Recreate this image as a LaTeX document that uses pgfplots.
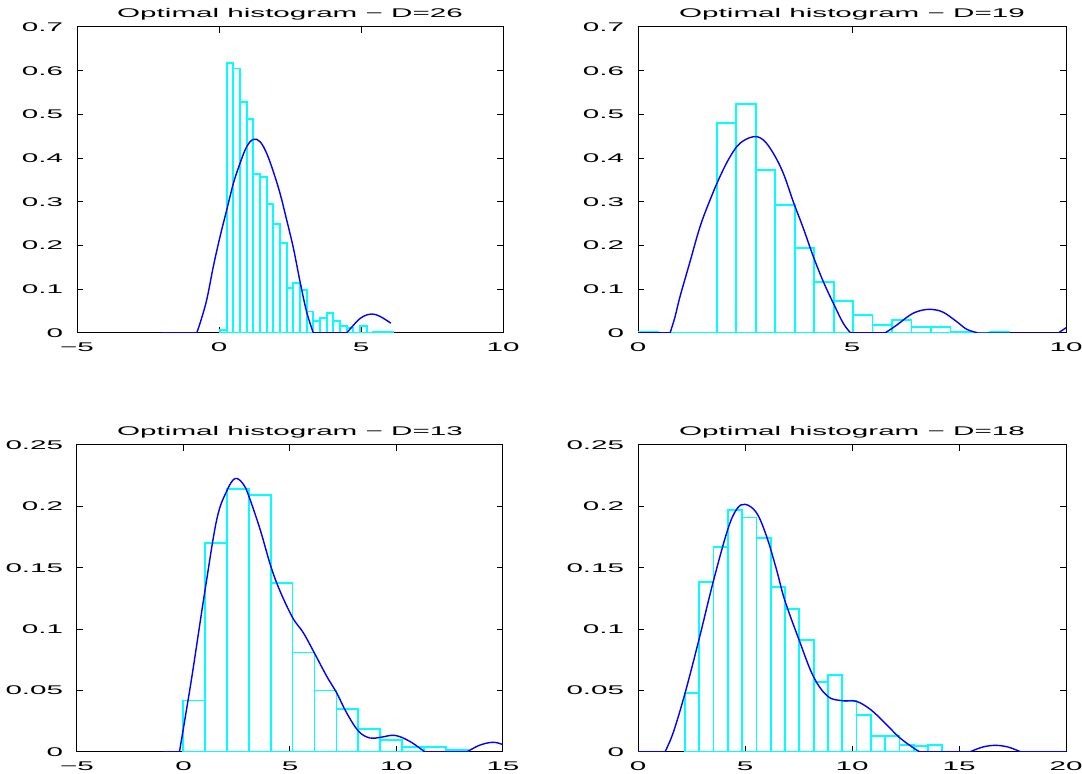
\documentclass[border=0pt]{standalone}
\usepackage{fontspec}
\setmainfont{Liberation Sans}[FakeStretch=2.35]
\usepackage{pgfplots}
\pgfplotsset{compat=1.18}
\definecolor{mcyan}{rgb}{0,1,1}
\definecolor{mblue}{rgb}{0,0,1}

\pgfplotsset{
  mhist/.style={
    scale only axis,
    axis line style={line width=0.5pt},
    tick align=inside, tick pos=both,
    major tick length=3pt,
    tick style={line width=0.5pt, black},
    every axis title/.style={at={(0.5,1)}, anchor=south, yshift=-0.2pt,
      font=\fontsize{6.3}{7}\selectfont},
    tick label style={font=\fontsize{6.3}{7}\selectfont},
    /pgf/number format/assume math mode=true,
    xticklabel style={yshift=-1.2pt},
    yticklabel style={xshift=-3.4pt},
    ymin=0,
  },
  bars/.style={ybar interval, draw=mcyan, fill=none, line width=0.9pt},
  fit/.style={mblue, line width=0.7pt, smooth, tension=0.6},
  base/.style={mblue, line width=0.7pt},
}

\begin{document}
\begin{tikzpicture}
\path[use as bounding box] (0,0) rectangle (541pt,387pt);

% top left, D=26
\begin{axis}[mhist, at={(38.5pt,220.5pt)}, anchor=south west,
  width=213pt, height=153pt,
  xmin=-5, xmax=10, ymax=0.7,
  xtick={-5,0,5,10}, xticklabels={−5,0,5,10},
  ytick={0,0.1,0.2,0.3,0.4,0.5,0.6,0.7},
  yticklabels={0,0.1,0.2,0.3,0.4,0.5,0.6,0.7},
  title={Optimal histogram − D=26}]
\addplot[bars] coordinates {
  (0.035,0.007) (0.270,0.617) (0.504,0.605) (0.739,0.528) (0.974,0.489)
  (1.209,0.363) (1.443,0.356) (1.678,0.295) (1.913,0.249) (2.147,0.205)
  (2.382,0.102) (2.617,0.114) (2.851,0.098) (3.086,0.049) (3.321,0.028)
  (3.556,0.034) (3.790,0.045) (4.025,0.028) (4.260,0.016) (4.494,0.011)
  (4.729,0) (4.964,0.016) (5.198,0) (5.433,0.002) (5.668,0.002)
  (5.903,0.002) (6.137,0.002)};
\addplot[base] coordinates {(-2,0) (-0.786,0)};
\addplot[base] coordinates {(3.322,0) (4.496,0)};
\addplot[fit] coordinates {
  (-0.786,0) (-0.669,0.022) (-0.434,0.0755) (-0.200,0.152) (0.035,0.220)
  (0.270,0.281) (0.505,0.342) (0.739,0.388) (0.974,0.426) (1.209,0.443)
  (1.444,0.4376) (1.679,0.411) (1.913,0.369) (2.148,0.3196) (2.383,0.2585)
  (2.617,0.195) (2.852,0.118) (3.087,0.048) (3.322,0)};
\addplot[fit] coordinates {
  (4.496,0) (4.85,0.026) (5.08,0.038) (5.376,0.0435) (5.67,0.038) (6.05,0.0225)};
\end{axis}

% top right, D=19
\begin{axis}[mhist, at={(319pt,220.5pt)}, anchor=south west,
  width=214pt, height=153pt,
  xmin=0, xmax=10, ymax=0.7,
  xtick={0,5,10}, xticklabels={0,5,10},
  ytick={0,0.1,0.2,0.3,0.4,0.5,0.6,0.7},
  yticklabels={0,0.1,0.2,0.3,0.4,0.5,0.6,0.7},
  title={Optimal histogram − D=19}]
\addplot[bars] coordinates {
  (0.016,0.002) (0.471,0) (0.927,0) (1.382,0) (1.838,0.481) (2.293,0.523)
  (2.748,0.372) (3.204,0.292) (3.659,0.194) (4.115,0.117) (4.570,0.073)
  (5.025,0.041) (5.481,0.018) (5.936,0.030) (6.392,0.013) (6.847,0.013)
  (7.302,0.003) (7.758,0) (8.213,0.002) (8.669,0.002)};
\addplot[base] coordinates {(0,0) (0.748,0)};
\addplot[base] coordinates {(4.969,0) (5.771,0)};
\addplot[base] coordinates {(7.951,0) (9.82,0) (10,0.012)};
\addplot[fit] coordinates {
  (0.748,0) (0.86,0.035) (0.981,0.083) (1.215,0.163) (1.449,0.243) (1.682,0.304)
  (1.916,0.358) (2.150,0.403) (2.383,0.434) (2.695,0.449) (2.928,0.4415)
  (3.162,0.411) (3.396,0.365) (3.629,0.300) (3.863,0.2395) (4.097,0.1746)
  (4.330,0.1174) (4.564,0.068) (4.797,0.022) (4.969,0)};
\addplot[fit] coordinates {
  (5.771,0) (6.044,0.018) (6.355,0.041) (6.589,0.051) (6.861,0.054)
  (7.134,0.0473) (7.446,0.026) (7.680,0.0085) (7.951,0)};
\end{axis}

% bottom left, D=13
\begin{axis}[mhist, at={(38.5pt,11pt)}, anchor=south west,
  width=213pt, height=153.5pt,
  xmin=-5, xmax=15, ymax=0.25,
  xtick={-5,0,5,10,15}, xticklabels={−5,0,5,10,15},
  ytick={0,0.05,0.1,0.15,0.2,0.25},
  yticklabels={0,0.05,0.1,0.15,0.2,0.25},
  title={Optimal histogram − D=13}]
\addplot[bars] coordinates {
  (-0.03,0.042) (1.00,0.170) (2.03,0.214) (3.06,0.209) (4.09,0.1375)
  (5.12,0.081) (6.15,0.050) (7.18,0.035) (8.21,0.019) (9.24,0.0098)
  (10.27,0.004) (11.30,0.004) (12.33,0.0016) (13.36,0.0016)};
\addplot[base] coordinates {(-0.94,0) (-0.19,0)};
\addplot[base] coordinates {(11.33,0) (13.30,0)};
\addplot[fit] coordinates {
  (-0.19,0) (0.234,0.0442) (0.469,0.0698) (1.017,0.1324) (1.564,0.1895)
  (2.033,0.2126) (2.424,0.2227) (2.813,0.218) (3.064,0.2085) (3.596,0.1813)
  (4.096,0.1514) (4.533,0.1310) (5.127,0.1093) (5.626,0.0971) (6.142,0.0807)
  (6.723,0.0617) (7.192,0.0481) (7.661,0.0318) (8.223,0.0168) (8.754,0.0114)
  (9.238,0.0119) (9.925,0.0135) (10.63,0.0086) (11.33,0)};
\addplot[fit] coordinates {
  (13.30,0) (13.9,0.0055) (14.53,0.0079) (15,0.006) (15.3,0.004)};
\end{axis}

% bottom right, D=18
\begin{axis}[mhist, at={(319pt,11pt)}, anchor=south west,
  width=214pt, height=153.5pt,
  xmin=0, xmax=20, ymax=0.25,
  xtick={0,5,10,15,20}, xticklabels={0,5,10,15,20},
  ytick={0,0.05,0.1,0.15,0.2,0.25},
  yticklabels={0,0.05,0.1,0.15,0.2,0.25},
  title={Optimal histogram − D=18}]
\addplot[bars] coordinates {
  (2.196,0.048) (2.864,0.1386) (3.532,0.167) (4.200,0.197) (4.868,0.191)
  (5.536,0.1745) (6.204,0.1345) (6.872,0.1166) (7.540,0.0913) (8.208,0.057)
  (8.876,0.0628) (9.544,0.0413) (10.212,0.0299) (10.880,0.0133) (11.548,0.0133)
  (12.216,0.0054) (12.884,0.0046) (13.552,0.0057) (14.220,0.0057)};
\addplot[base] coordinates {(0,0) (1.26,0)};
\addplot[base] coordinates {(13.18,0) (15.5,0)};
\addplot[base] coordinates {(17.9,0) (20,0)};
\addplot[fit] coordinates {
  (1.26,0) (1.65,0.016) (2.20,0.048) (2.87,0.093) (3.52,0.139) (4.19,0.181)
  (4.61,0.1976) (5.0,0.2017) (5.53,0.195) (6.0,0.176) (6.47,0.1487)
  (6.85,0.124) (7.52,0.0916) (8.19,0.0617) (8.86,0.0454) (9.53,0.0418)
  (10.2,0.0413) (10.87,0.0345) (11.54,0.0236) (12.21,0.0119) (12.88,0.0032)
  (13.18,0)};
\addplot[fit] coordinates {
  (15.5,0) (16.1,0.0040) (16.7,0.0054) (17.3,0.0040) (17.9,0)};
\end{axis}
\end{tikzpicture}
\end{document}
